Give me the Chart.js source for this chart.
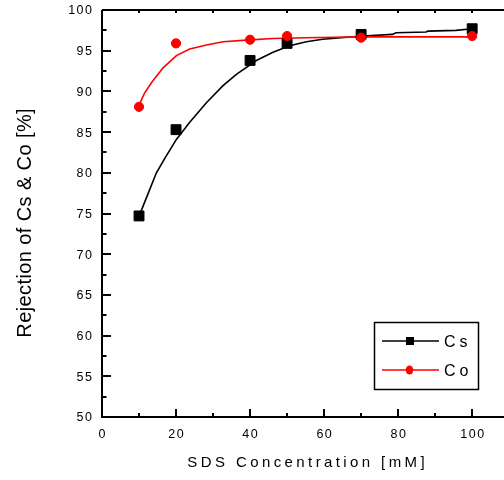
<!DOCTYPE html>
<html>
<head>
<meta charset="utf-8">
<script src="https://cdn.jsdelivr.net/npm/chart.js@4.4.1/dist/chart.umd.min.js"></script>
<style>
  html, body { margin: 0; padding: 0; background: #fff; overflow: hidden; }
</style>
</head>
<body>
<canvas id="chart" width="504" height="480"></canvas>
<script>
// measured points
const concX = [10, 20, 40, 50, 70, 100];
const csValues = [74.7, 85.3, 93.8, 95.9, 97.0, 97.7];
const coValues = [88.1, 95.9, 96.35, 96.8, 96.6, 96.8];

// fitted curves
const csFitX = [10, 11.1, 12.5, 14.7, 17, 20.1, 23.7, 28.2, 32.7, 36.3, 41.7, 46.2, 50.7, 55.2, 59.6, 64.6, 70.4, 78.5, 79.4, 87.5, 88, 95.6, 100];
const csFitY = [74.7, 75.9, 77.5, 80.0, 81.8, 84.1, 86.2, 88.6, 90.7, 92.1, 93.8, 94.8, 95.6, 96.1, 96.4, 96.6, 96.8, 97.0, 97.2, 97.3, 97.4, 97.5, 97.7];
const coFitX = [9.8, 11.5, 13.4, 16.5, 20.1, 23.7, 28.2, 32.7, 39, 46.2, 55, 70, 100];
const coFitY = [88.1, 89.8, 91.1, 92.9, 94.4, 95.2, 95.7, 96.1, 96.3, 96.5, 96.6, 96.7, 96.7];

const xTicks = [0, 20, 40, 60, 80, 100];
const yTicks = [50, 55, 60, 65, 70, 75, 80, 85, 90, 95, 100];
const seriesNames = ["Cs", "Co"];
const seriesColors = ["#000000", "#ff0000"];

const FONT = "'Liberation Sans', Arial, sans-serif";

function pts(xs, ys) {
  return xs.map((x, i) => ({ x: x, y: ys[i] }));
}

function text(ctx, s, x, y, size, spacing, align, baseline) {
  ctx.save();
  ctx.font = size + "px " + FONT;
  ctx.letterSpacing = spacing + "px";
  ctx.textAlign = align;
  ctx.textBaseline = baseline || "middle";
  ctx.fillStyle = "#000";
  let dx = 0;
  if (align === "center") dx = spacing / 2;
  if (align === "right") dx = spacing;
  ctx.fillText(s, x + dx, y);
  ctx.restore();
}

const axesPlugin = {
  id: "axesPlugin",
  afterDraw(chart) {
    const ctx = chart.ctx;
    const a = chart.chartArea;
    const xs = chart.scales.x;
    const ys = chart.scales.y;
    ctx.save();
    ctx.strokeStyle = "#000";
    ctx.lineWidth = 2;
    ctx.beginPath();
    ctx.moveTo(a.left, a.top);
    ctx.lineTo(a.left, a.bottom);
    ctx.lineTo(504, a.bottom);
    ctx.moveTo(a.left, a.top);
    ctx.lineTo(504, a.top);
    ctx.stroke();

    // y ticks
    ctx.beginPath();
    for (let v = 50; v <= 100; v += 2.5) {
      const py = Math.round(ys.getPixelForValue(v));
      const len = v % 5 === 0 ? 9 : 4.5;
      ctx.moveTo(a.left, py);
      ctx.lineTo(a.left + len, py);
    }
    // x ticks bottom and top
    for (let v = 0; v <= 100; v += 10) {
      const px = Math.round(xs.getPixelForValue(v));
      const len = v % 20 === 0 ? 8 : 4;
      ctx.moveTo(px, a.bottom);
      ctx.lineTo(px, a.bottom - len);
      ctx.moveTo(px, a.top);
      ctx.lineTo(px, a.top + 3);
    }
    ctx.stroke();
    ctx.restore();

    yTicks.forEach(v => {
      text(ctx, String(v), 92, ys.getPixelForValue(v) + 1, 12.5, 1.5, "right");
    });
    xTicks.forEach(v => {
      text(ctx, String(v), xs.getPixelForValue(v), 435, 12.5, 1.5, "center");
    });

    text(ctx, "SDS Concentration [mM]", 306, 467, 15, 3.4, "center", "alphabetic");

    ctx.save();
    ctx.translate(31, 223);
    ctx.rotate(-Math.PI / 2);
    text(ctx, "Rejection of Cs & Co [%]", 0, 0, 20, 0.4, "center", "alphabetic");
    ctx.restore();

    // legend
    ctx.save();
    ctx.strokeStyle = "#000";
    ctx.lineWidth = 1.5;
    ctx.strokeRect(374.5, 322.5, 104, 67);
    const rows = [341, 370];
    seriesNames.forEach((name, i) => {
      const y = rows[i];
      ctx.strokeStyle = seriesColors[i];
      ctx.fillStyle = seriesColors[i];
      ctx.lineWidth = 1.5;
      ctx.beginPath();
      ctx.moveTo(382, y);
      ctx.lineTo(439, y);
      ctx.stroke();
      if (i === 0) {
        ctx.fillRect(406, y - 4, 8, 8);
      } else {
        ctx.beginPath();
        ctx.ellipse(409.5, y, 3.8, 4.5, 0, 0, Math.PI * 2);
        ctx.fill();
      }
      text(ctx, name, 444, y + 6, 16, 4, "left", "alphabetic");
    });
    ctx.restore();
  }
};

new Chart(document.getElementById("chart"), {
  type: "scatter",
  data: {
    datasets: [
      {
        label: "Co",
        data: pts(concX, coValues),
        backgroundColor: seriesColors[1],
        borderColor: seriesColors[1],
        pointStyle: "circle",
        pointRadius: 4.6,
        showLine: false,
        order: 0
      },
      {
        label: "Cs",
        data: pts(concX, csValues),
        backgroundColor: seriesColors[0],
        borderColor: seriesColors[0],
        pointStyle: "rect",
        pointRadius: 7,
        showLine: false,
        order: 1
      },
      {
        label: "Co fit",
        data: pts(coFitX, coFitY),
        borderColor: seriesColors[1],
        borderWidth: 1.6,
        pointRadius: 0,
        showLine: true,
        order: 2
      },
      {
        label: "Cs fit",
        data: pts(csFitX, csFitY),
        borderColor: seriesColors[0],
        borderWidth: 1.6,
        pointRadius: 0,
        showLine: true,
        order: 3
      }
    ]
  },
  options: {
    responsive: false,
    animation: false,
    layout: { autoPadding: false, padding: { top: 10, right: 0, bottom: 0, left: 0 } },
    plugins: {
      legend: { display: false },
      tooltip: { enabled: false }
    },
    scales: {
      x: {
        type: "linear",
        min: 0,
        max: 108.6,
        grid: { display: false, drawTicks: false },
        border: { display: false },
        ticks: { display: false },
        afterFit(s) { s.height = 63; s.paddingLeft = 0; s.paddingRight = 0; }
      },
      y: {
        min: 50,
        max: 100,
        grid: { display: false, drawTicks: false },
        border: { display: false },
        ticks: { display: false },
        afterFit(s) { s.width = 102; s.paddingTop = 0; s.paddingBottom = 0; }
      }
    }
  },
  plugins: [axesPlugin]
});
</script>
</body>
</html>
